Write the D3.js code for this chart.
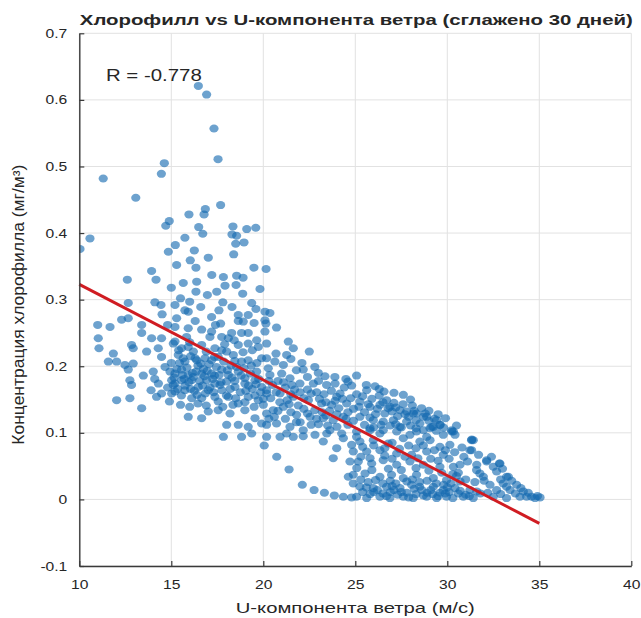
<!DOCTYPE html>
<html>
<head>
<meta charset="utf-8">
<script src="https://cdn.jsdelivr.net/npm/d3@7"></script>
<style>
  body { margin: 0; background: #fff; }
  text { font-family: "Liberation Sans", Arial, Helvetica, sans-serif; fill: #262626; }
</style>
</head>
<body>
<svg id="chart" width="641" height="618"></svg>
<script>
// Axis ticks
const xTicks = [10, 15, 20, 25, 30, 35, 40];
const xTickLabels = ["10", "15", "20", "25", "30", "35", "40"];
const yTicks = [-0.1, 0, 0.1, 0.2, 0.3, 0.4, 0.5, 0.6, 0.7];
const yTickLabels = ["-0.1", "0", "0.1", "0.2", "0.3", "0.4", "0.5", "0.6", "0.7"];

// Linear fit of chlorophyll on U-wind and its correlation
const fitSlope = -0.01436;
const fitIntercept = 0.4666;
const fitRange = [10, 35];
const corrR = -0.778;

// 30-day smoothed samples: [U-wind (m/s), chlorophyll (mg/m^3)]
const bloomSamples = [
  [16.47,0.621],[16.92,0.608],[17.32,0.557],[17.54,0.511],[14.62,0.505],[14.46,0.489],[11.30,0.482],
  [13.07,0.453],[17.68,0.442],[16.85,0.436],[15.96,0.428],[16.78,0.428],[14.89,0.418],[14.70,0.411],
  [16.49,0.409],[18.35,0.410],[19.10,0.406],[19.59,0.408],[16.71,0.399],[18.30,0.398],[18.55,0.396],
  [10.58,0.392],[15.74,0.393],[15.22,0.382],[18.95,0.386],[18.50,0.384],[10.04,0.376],[14.84,0.372],
  [16.25,0.374],[18.39,0.368],[16.03,0.359],[17.01,0.363],[15.29,0.352],[16.34,0.348],[19.49,0.348],
  [20.15,0.346],[13.93,0.343],[17.83,0.334],[18.55,0.336],[12.61,0.330],[14.17,0.330],[15.65,0.325],
  [16.38,0.327],[17.92,0.321],[18.52,0.322],[19.82,0.316],[18.88,0.309],[17.47,0.312],[16.96,0.307],
  [16.34,0.312],[15.50,0.302],[16.00,0.297],[16.60,0.289],[17.80,0.296],[18.30,0.289],[19.60,0.286],
  [14.80,0.262],[16.30,0.268],[17.40,0.262],[19.50,0.265],[15.00,0.318],[17.20,0.337],[18.90,0.333],
  [14.50,0.278]
];

const weakWindSamples = [
  [19.37,0.295],[20.09,0.282],[12.66,0.295],[14.11,0.296],[14.44,0.292],[15.20,0.292],[15.74,0.284],
  [15.92,0.282],[17.19,0.274],[17.59,0.284],[18.64,0.277],[19.18,0.277],[18.91,0.267],[18.64,0.268],
  [20.09,0.269],[11.00,0.262],[11.67,0.259],[12.30,0.270],[12.66,0.272],[13.39,0.262],[15.29,0.272],
  [15.20,0.259],[15.92,0.257],[16.65,0.255],[17.68,0.264],[18.28,0.250],[18.82,0.250],[13.39,0.250],
  [13.93,0.242],[14.47,0.242],[15.20,0.237],[15.83,0.244],[17.19,0.252],[17.10,0.244],[17.74,0.244],
  [18.10,0.242],[18.42,0.239],[19.18,0.250],[19.64,0.239],[20.09,0.252],[11.03,0.242],[11.07,0.227],
  [11.85,0.219],[12.84,0.232],[12.93,0.227],[13.66,0.222],[14.29,0.227],[15.11,0.234],[15.56,0.227],
  [15.92,0.229],[16.20,0.222],[16.65,0.232],[17.37,0.227],[17.74,0.224],[18.01,0.222],[18.64,0.232],
  [19.18,0.234],[19.73,0.229],[20.18,0.234],[11.58,0.207],[12.03,0.207],[12.48,0.202],[12.93,0.204],
  [14.47,0.214],[15.38,0.217],[15.65,0.212],[15.74,0.207],[16.38,0.209],[16.83,0.212],[17.19,0.209],
  [17.55,0.214],[18.37,0.217],[18.82,0.207],[19.18,0.209],[19.91,0.212],[12.66,0.195],[13.48,0.186],
  [14.02,0.192],[14.66,0.199],[14.93,0.192],[15.20,0.189],[15.56,0.195],[15.92,0.187],[16.20,0.184],
  [16.65,0.189],[17.19,0.189],[17.74,0.195],[18.10,0.187],[18.64,0.192],[19.00,0.182],[19.64,0.192],
  [20.27,0.197],[12.75,0.179],[12.84,0.172],[15.02,0.179],[15.20,0.174],[15.56,0.179],[16.11,0.179],
  [16.47,0.169],[16.92,0.179],[17.37,0.174],[18.01,0.177],[18.46,0.169],[19.00,0.174],[19.55,0.179],
  [19.91,0.169],[12.03,0.149],[12.75,0.152],[14.20,0.154],[14.47,0.159],[15.02,0.159],[15.20,0.162],
  [15.74,0.164],[16.11,0.152],[16.65,0.152],[17.01,0.164],[17.37,0.154],[17.55,0.147],[18.10,0.154],
  [18.64,0.144],[19.18,0.154],[19.73,0.149],[20.18,0.159],[13.39,0.137],[15.92,0.124],[16.65,0.122],
  [17.01,0.132],[17.55,0.134],[18.19,0.129],[19.00,0.134],[19.55,0.122],[20.18,0.129],[18.01,0.112],
  [18.64,0.112],[19.18,0.109],[19.91,0.114],[17.83,0.094],[18.82,0.094],[19.37,0.099],[20.18,0.094],
  [15.45,0.205],[15.85,0.198],[16.05,0.215],[16.45,0.201],[16.75,0.196],[17.05,0.203],[17.45,0.199],
  [17.85,0.207],[18.25,0.201],[18.55,0.199],[19.35,0.201],[19.65,0.205],[15.15,0.183],[15.60,0.187],
  [15.95,0.176],[16.35,0.192],[16.80,0.185],[17.25,0.181],[17.60,0.187],[18.30,0.183],[18.80,0.186],
  [19.30,0.189],[19.75,0.181],[14.80,0.168],[15.35,0.166],[15.75,0.171],[16.25,0.163],[16.70,0.171],
  [17.10,0.168],[17.75,0.164],[18.20,0.166],[18.75,0.161],[19.40,0.166],[19.85,0.161],[14.90,0.147],
  [15.50,0.142],[16.00,0.139],[16.45,0.144],[16.90,0.141],[17.80,0.139],[18.35,0.142],[19.00,0.146],
  [19.50,0.139],[20.00,0.151],[15.40,0.224],[16.00,0.236],[16.90,0.222],[17.90,0.233],[18.90,0.221],
  [19.40,0.224],[14.30,0.174],[13.90,0.164],[14.10,0.181],
  [15.30,0.196],[15.70,0.181],[16.15,0.190],[16.55,0.178],[16.95,0.193],[17.35,0.186],[17.70,0.176],
  [18.05,0.194],[18.45,0.178],[18.95,0.197],[19.20,0.171],[19.60,0.173],[15.10,0.172],[15.55,0.156],
  [16.05,0.166],[16.40,0.157],[16.85,0.159],[17.30,0.161],[17.65,0.172],[18.00,0.156],[18.50,0.152],
  [19.05,0.163],[19.55,0.156],[16.30,0.212],[17.35,0.214],[18.45,0.208],[15.00,0.205],[16.60,0.204]
];

const moderateWindSamples = [
  [20.36,0.280],[20.14,0.264],[20.72,0.258],[21.36,0.237],[21.63,0.227],[22.50,0.222],[20.69,0.219],
  [21.27,0.217],[20.18,0.212],[20.63,0.207],[21.09,0.202],[22.17,0.195],[22.99,0.190],[23.35,0.185],
  [23.89,0.184],[24.49,0.181],[25.07,0.186],[20.36,0.187],[21.45,0.182],[21.99,0.174],[22.72,0.174],
  [23.44,0.172],[24.17,0.159],[23.99,0.154],[25.07,0.158],[25.62,0.164],[26.07,0.170],[26.56,0.162],
  [27.61,0.157],[20.18,0.164],[20.91,0.159],[21.63,0.154],[22.45,0.149],[23.17,0.144],[23.71,0.142],
  [24.53,0.144],[25.25,0.147],[25.80,0.139],[26.34,0.142],[26.79,0.137],[27.43,0.134],[28.15,0.129],
  [28.70,0.124],[20.00,0.142],[20.54,0.134],[21.09,0.139],[21.81,0.127],[22.54,0.124],[23.26,0.122],
  [23.80,0.119],[24.35,0.124],[25.25,0.124],[25.98,0.119],[26.52,0.117],[27.07,0.119],[27.79,0.117],
  [28.51,0.114],[29.24,0.109],[29.60,0.112],[20.18,0.112],[20.72,0.114],[21.45,0.109],[22.17,0.104],
  [22.81,0.097],[23.62,0.104],[24.26,0.099],[25.07,0.094],[25.80,0.104],[26.34,0.099],[27.25,0.102],
  [27.97,0.097],[28.88,0.094],[20.91,0.094],[21.63,0.094],[26.88,0.139],[27.79,0.132],[28.33,0.129],
  [28.88,0.124],[29.42,0.119],[29.15,0.109],[30.24,0.102],[31.32,0.089],[31.23,0.074],[32.14,0.057],
  [32.83,0.054],[31.77,0.039],[33.32,0.034],[29.61,0.112],[30.24,0.104],[30.42,0.097],[31.33,0.090],
  [20.50,0.172],[20.80,0.178],[21.20,0.168],[21.70,0.165],[22.00,0.161],[22.40,0.165],[22.90,0.161],
  [23.30,0.158],[23.70,0.163],[24.40,0.168],[24.80,0.171],[20.40,0.152],[20.90,0.146],[21.30,0.149],
  [21.90,0.141],[22.20,0.136],[22.80,0.134],[23.20,0.131],[23.60,0.133],[24.10,0.137],[24.60,0.131],
  [24.90,0.136],[20.60,0.124],[21.20,0.121],[21.50,0.131],[22.00,0.116],[22.60,0.112],[23.00,0.113],
  [23.50,0.111],[24.00,0.109],[24.60,0.112],[24.90,0.118],[21.00,0.189],[21.80,0.194],[22.40,0.184],
  [23.00,0.178],[23.90,0.174],[24.60,0.177],[22.10,0.205],[21.50,0.211],[22.80,0.199],
  [25.40,0.155],[25.90,0.151],[26.30,0.156],[26.70,0.149],[27.10,0.145],[27.60,0.143],[28.10,0.141],
  [28.60,0.137],[29.00,0.133],[29.50,0.128],[29.90,0.122],[25.50,0.131],[26.10,0.128],[26.60,0.129],
  [27.30,0.125],[27.90,0.124],[28.30,0.119],[29.00,0.118],[29.80,0.108],[30.50,0.111],[25.50,0.112],
  [26.00,0.108],[26.90,0.111],[27.50,0.108],[28.30,0.107],[28.70,0.104],[25.60,0.172],[26.30,0.166],
  [27.10,0.160],[28.00,0.150],[27.00,0.132],
  [20.30,0.178],[20.70,0.161],[21.10,0.176],[21.55,0.172],[21.50,0.158],[22.20,0.152],[22.60,0.159],
  [23.05,0.151],[23.40,0.146],[23.90,0.148],[24.30,0.151],[24.75,0.152],[20.80,0.133],[21.40,0.143],
  [22.40,0.129],[22.90,0.121],[23.40,0.126],[24.00,0.128],[24.50,0.121],[20.30,0.121],[21.80,0.116],
  [25.20,0.139],[25.70,0.143],[26.20,0.136],[26.50,0.146],[27.20,0.138],[27.70,0.128],[28.20,0.133],
  [28.80,0.129],[29.30,0.121],[25.80,0.123],[26.40,0.112],[27.20,0.113],[28.00,0.111],[29.40,0.103]
];

const strongWindSamples = [
  [20.73,0.064],[21.40,0.045],[22.12,0.022],[22.76,0.014],[23.32,0.010],[23.86,0.006],[24.35,0.004],
  [24.80,0.003],[20.05,0.081],[21.27,0.099],[22.17,0.095],[23.26,0.087],[23.80,0.062],[23.99,0.077],
  [23.45,0.099],[24.71,0.057],[24.62,0.034],[24.89,0.024],[25.08,0.047],[24.80,0.082],[24.35,0.092],
  [25.07,0.102],[25.80,0.107],[26.52,0.104],[27.43,0.109],[28.33,0.102],[29.06,0.107],[29.78,0.097],
  [30.33,0.102],[25.25,0.087],[25.98,0.089],[26.79,0.084],[27.61,0.092],[28.51,0.087],[29.06,0.089],
  [29.60,0.079],[30.14,0.082],[31.41,0.089],[24.89,0.072],[25.62,0.072],[26.34,0.074],[27.25,0.069],
  [28.06,0.067],[28.88,0.072],[29.78,0.067],[30.69,0.052],[31.32,0.074],[32.14,0.059],[32.86,0.054],
  [32.68,0.042],[25.16,0.057],[25.89,0.054],[26.52,0.059],[27.25,0.052],[27.97,0.057],[28.70,0.052],
  [29.60,0.049],[30.33,0.049],[31.59,0.044],[31.96,0.034],[33.22,0.034],[24.89,0.037],[25.53,0.039],
  [26.34,0.034],[26.97,0.037],[27.61,0.032],[28.33,0.037],[29.24,0.032],[29.96,0.029],[30.69,0.027],
  [32.32,0.022],[33.04,0.024],[33.77,0.022],[25.25,0.019],[25.98,0.017],[26.70,0.019],[27.43,0.017],
  [28.06,0.022],[28.61,0.014],[29.24,0.019],[29.78,0.014],[30.42,0.017],[31.23,0.014],[32.68,0.014],
  [33.41,0.014],[34.13,0.012],[34.58,0.004],[25.07,0.004],[25.62,0.002],[26.34,0.004],[26.88,0.002],
  [27.61,0.004],[28.15,0.002],[28.88,0.004],[29.42,0.002],[29.96,0.004],[30.87,0.004],[31.41,0.002],
  [32.50,0.004],[33.22,0.002],[33.95,0.004],[35.04,0.003],[34.77,0.002],[33.22,0.019],[34.31,0.004],
  [25.40,0.079],[26.00,0.081],[26.60,0.077],[27.00,0.085],[27.40,0.076],[27.90,0.081],[28.30,0.077],
  [28.70,0.081],[29.30,0.074],[29.90,0.074],[30.40,0.071],[30.80,0.078],[25.30,0.064],[25.80,0.062],
  [26.60,0.066],[27.00,0.061],[27.70,0.064],[28.40,0.062],[29.10,0.061],[29.50,0.058],[30.10,0.061],
  [30.90,0.064],[31.70,0.067],[32.40,0.064],[31.10,0.057],[31.60,0.052],[32.50,0.049],[33.00,0.046],
  [30.60,0.040],[25.30,0.030],[25.70,0.026],[26.10,0.029],[26.50,0.024],[26.90,0.028],[27.20,0.024],
  [27.80,0.027],[28.10,0.030],[28.50,0.026],[28.90,0.028],[29.40,0.024],[29.80,0.022],[30.20,0.024],
  [30.50,0.035],[31.00,0.030],[31.50,0.026],[32.00,0.028],[32.90,0.030],[33.50,0.028],[34.00,0.017],
  [25.40,0.011],[25.80,0.008],[26.00,0.011],[26.50,0.009],[26.90,0.011],[27.30,0.007],[27.80,0.010],
  [28.30,0.008],[28.90,0.010],[29.20,0.008],[29.60,0.010],[30.10,0.011],[30.60,0.009],[31.00,0.007],
  [31.80,0.009],[32.20,0.010],[32.90,0.008],[33.70,0.009],[34.40,0.010],[34.90,0.005],[25.90,0.044],
  [26.80,0.046],[27.50,0.044],[28.30,0.047],[29.00,0.043],[29.70,0.040],[30.30,0.038],
  [25.60,0.018],[26.20,0.014],[26.70,0.005],[27.10,0.014],[27.50,0.011],[27.90,0.003],[28.20,0.016],
  [28.70,0.006],[29.10,0.014],[29.50,0.005],[29.90,0.009],[30.30,0.002],[30.70,0.013],[31.20,0.005],
  [31.60,0.012],[27.00,0.020],[28.50,0.019],[30.00,0.018]
];

const samples = [...bloomSamples, ...weakWindSamples, ...moderateWindSamples, ...strongWindSamples];

// Plot frame
const W = 641, H = 618;
const plot = { left: 79.3, right: 631.3, top: 33.3, bottom: 566 };

const x = d3.scaleLinear().domain([10, 40]).range([plot.left, plot.right]);
const y = d3.scaleLinear().domain([-0.1, 0.7]).range([plot.bottom, plot.top]);

const svg = d3.select("#chart");
svg.append("rect").attr("width", W).attr("height", H).attr("fill", "#fff");

// Text is drawn slightly wide, like the exported figure
const WIDEN = 1.25;
function widen(sel, k = WIDEN) {
  sel.each(function () {
    const n = this.getComputedTextLength();
    d3.select(this).attr("textLength", n * k).attr("lengthAdjust", "spacingAndGlyphs");
  });
}

// Grid
const grid = svg.append("g").attr("stroke", "#e2e2e2").attr("stroke-width", 1);
grid.selectAll("line.vx").data(xTicks).join("line")
  .attr("x1", d => x(d)).attr("x2", d => x(d))
  .attr("y1", plot.top).attr("y2", plot.bottom);
grid.selectAll("line.hy").data(yTicks).join("line")
  .attr("x1", plot.left).attr("x2", plot.right)
  .attr("y1", d => y(d)).attr("y2", d => y(d));

// Scatter
svg.append("defs").append("clipPath").attr("id", "clip")
  .append("rect").attr("x", plot.left).attr("y", plot.top)
  .attr("width", plot.right - plot.left).attr("height", plot.bottom - plot.top);

svg.append("g").attr("clip-path", "url(#clip)")
  .selectAll("ellipse").data(samples).join("ellipse")
  .attr("cx", d => x(d[0])).attr("cy", d => y(d[1]))
  .attr("rx", 4.6).attr("ry", 4.0)
  .attr("fill", "#1469b0").attr("fill-opacity", 0.62);

// Fit line
const fitLine = d3.line().x(d => x(d)).y(d => y(fitIntercept + fitSlope * d));
svg.append("path").datum(fitRange)
  .attr("d", fitLine)
  .attr("fill", "none").attr("stroke", "#d01c22").attr("stroke-width", 3);

// Axes
const xAxis = d3.axisBottom(x).tickValues(xTicks).tickFormat((d, i) => xTickLabels[i])
  .tickSizeInner(-5).tickSizeOuter(0).tickPadding(14);
const yAxis = d3.axisLeft(y).tickValues(yTicks).tickFormat((d, i) => yTickLabels[i])
  .tickSizeInner(-5).tickSizeOuter(0).tickPadding(12);

const gx = svg.append("g").attr("transform", `translate(0,${plot.bottom})`).call(xAxis);
const gy = svg.append("g").attr("transform", `translate(${plot.left},0)`).call(yAxis);
[gx, gy].forEach(g => {
  g.select(".domain").attr("stroke", "#3a3a3a").attr("stroke-width", 1.4);
  g.selectAll(".tick line").attr("stroke", "#3a3a3a").attr("stroke-width", 1.2);
  g.selectAll(".tick text").attr("fill", "#262626").style("font-size", "12.5px")
    .style("font-family", "'Liberation Sans', Arial, sans-serif");
});
widen(gx.selectAll(".tick text"));
widen(gy.selectAll(".tick text"));

// Title
svg.append("text").attr("x", (plot.left + plot.right) / 2 + 1).attr("y", 25)
  .attr("text-anchor", "middle").style("font-size", "14.5px").style("font-weight", "bold")
  .attr("fill", "#000")
  .attr("textLength", 553).attr("lengthAdjust", "spacingAndGlyphs")
  .text("Хлорофилл vs U-компонента ветра (сглажено 30 дней)");

// Axis labels
svg.append("text").attr("x", (plot.left + plot.right) / 2).attr("y", 613)
  .attr("text-anchor", "middle").style("font-size", "15px")
  .text("U-компонента ветра (м/с)")
  .call(widen, 1.35);

svg.append("text")
  .attr("transform", `translate(24,${(plot.top + plot.bottom) / 2 + 5}) rotate(-90)`)
  .attr("text-anchor", "middle").style("font-size", "16px")
  .attr("textLength", 280).attr("lengthAdjust", "spacingAndGlyphs")
  .text("Концентрация хлорофилла (мг/м³)");

// Correlation annotation
svg.append("text").attr("x", x(11.45)).attr("y", 81)
  .style("font-size", "17px")
  .text(`R = ${corrR.toFixed(3)}`)
  .call(widen, 1.2);
</script>
</body>
</html>
